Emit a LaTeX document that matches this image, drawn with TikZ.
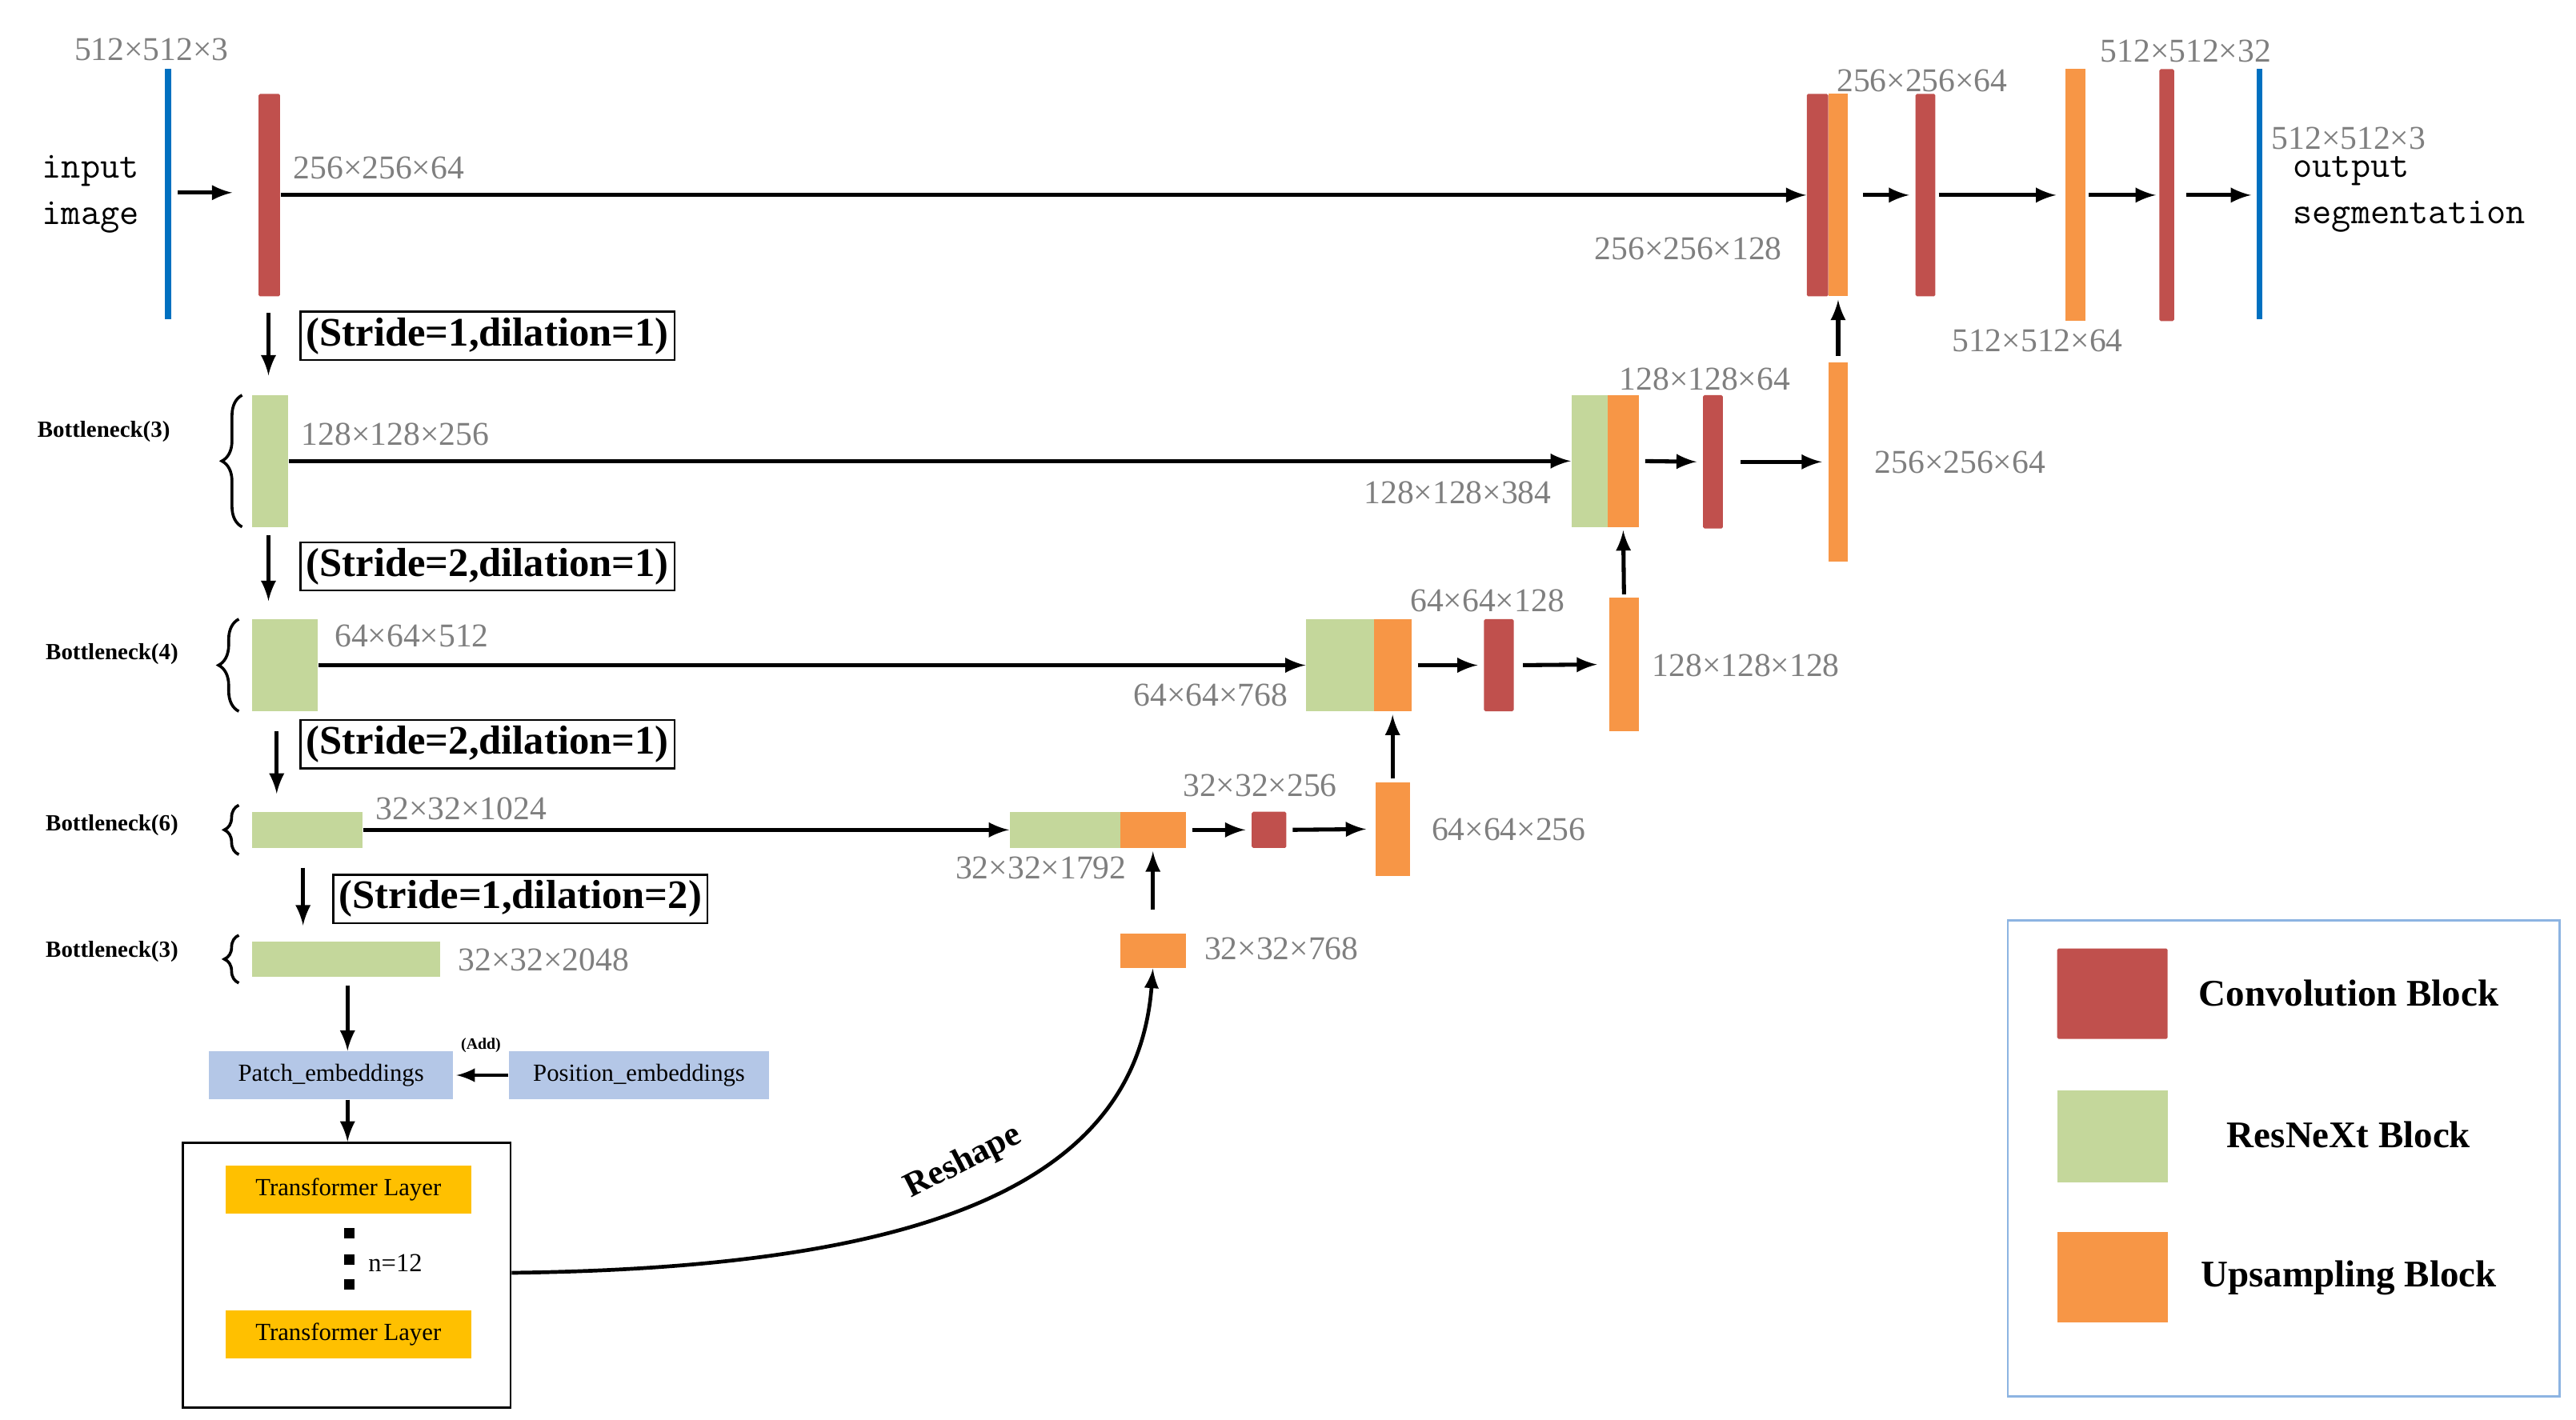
\documentclass[tikz,border=0pt]{standalone}
\usepackage{fontspec}
\setmainfont{Liberation Serif}
\usetikzlibrary{positioning,decorations.pathreplacing}
\definecolor{convred}{HTML}{C0504D}
\definecolor{resgreen}{HTML}{C4D79B}
\definecolor{uporange}{HTML}{F79646}
\definecolor{embblue}{HTML}{B4C7E7}
\definecolor{trgold}{HTML}{FFC000}
\definecolor{dimgray}{HTML}{7F7F7F}
\definecolor{inblue}{HTML}{0070C0}
\definecolor{legline}{HTML}{8DB4E2}
\tikzset{
  bl/.style 2 args={minimum width=#1*0.02cm, minimum height=#2*0.02cm, inner sep=0pt, draw=none},
  conv/.style={fill=convred, rounded corners=0.5pt},
  res/.style={fill=resgreen},
  up/.style={fill=uporange},
  dim/.style={text=dimgray, font=\fontsize{11.5}{13}\selectfont, inner sep=1pt},
  arr/.style={-latex, line width=1.4pt},
  strd/.style={draw, line width=0.7pt, font=\bfseries\fontsize{14}{16}\selectfont, inner sep=2pt},
  bneck/.style={font=\bfseries\fontsize{8}{9}\selectfont},
  emb/.style={fill=embblue, minimum width=2.96cm, minimum height=0.58cm, font=\fontsize{8.5}{10}\selectfont},
  trl/.style={fill=trgold, minimum width=2.98cm, minimum height=0.58cm, font=\fontsize{8.5}{10}\selectfont},
  leg/.style={font=\bfseries\fontsize{13}{15}\selectfont}
}
\begin{document}
\begin{tikzpicture}[x=0.02cm, y=-0.02cm]
\useasboundingbox (0,0) rectangle (1564,862);
% input / output
\draw[inblue, line width=2pt] (102,42) coordinate (in1) -- (102,194) coordinate (in2);
\draw[inblue, line width=2pt] (1372,42) coordinate (out1) -- (1372,194) coordinate (out2);
\node[dim] at (92,30) {512×512×3};
\node[font=\ttfamily\fontsize{13}{16}\selectfont, align=left] (inp) at (55,118) {input\\image};
\node[font=\ttfamily\fontsize{13}{16}\selectfont, align=left, anchor=west] (outp) at (1386,118) {output\\segmentation};
\node[dim] at (1426,84) {512×512×3};
% level 0
\node[conv, bl={13}{123}] (c0) at (163.5,118.5) {};
\node[dim] at (230,102) {256×256×64};
\node[conv, bl={13}{123}] (d0r) at (1103.5,118.5) {};
\node[up, bl={12}{123}] (d0u) at (1116,118.5) {};
\node[conv, bl={12}{123}] (d0c) at (1169,118.5) {};
\node[up, bl={12}{153}] (d0u2) at (1260,118.5) {};
\node[conv, bl={9}{153}] (d0c2) at (1315.5,118.5) {};
\node[dim] at (1167,49) {256×256×64};
\node[dim] at (1025,151) {256×256×128};
\node[dim] at (1237,207) {512×512×64};
\node[dim] at (1327,31) {512×512×32};
\coordinate (a0) at (108,117);
\coordinate (a0b) at (141,117);
\draw[arr] (a0) -- (a0b);
\draw[arr] (c0.east) -- (d0r.west);
\draw[arr, shorten <=5pt, shorten >=2pt] (d0u.east) -- (d0c.west);
\draw[arr, shorten <=1pt, shorten >=3pt] (d0c.east) -- (d0u2.west);
\draw[arr, shorten <=1pt, shorten >=1pt] (d0u2.east) -- (d0c2.west);
\draw[arr, shorten <=4pt, shorten >=3pt] (d0c2.east) -- (out1 |- d0c2.east);
% level 1
\draw[arr] (163,190) coordinate (s1a) -- (163,228) coordinate (s1b);
\node[strd] (st1) at (296,204) {(Stride=1,dilation=1)};
\node[res, bl={22}{80}] (e1) at (164,280) {};
\draw[decorate, decoration={brace, amplitude=7pt}, line width=1pt] (147,320) -- (147,240);
\node[bneck] at (63,262) {Bottleneck(3)};
\node[dim] at (240,264) {128×128×256};
\node[res, bl={22}{80}] (d1g) at (965,280) {};
\node[up, bl={19}{80}] (d1u) at (985.5,280) {};
\node[conv, bl={12}{81}] (d1c) at (1040,280.5) {};
\node[up, bl={12}{121}] (d1u2) at (1116,280.5) {};
\node[dim] at (885,299) {128×128×384};
\node[dim] at (1035,230) {128×128×64};
\node[dim] at (1190,281) {256×256×64};
\draw[arr] (e1.east) -- (d1g.west);
\draw[arr, shorten <=2pt, shorten >=2pt] (d1u.east) -- (d1c.west);
\draw[arr, shorten <=6pt, shorten >=2pt] (d1c.east) -- (d1u2.west);
\draw[arr, shorten <=2pt, shorten >=1pt] (d1u2.north) -- (d0u.south);
% level 2
\draw[arr] (163,325) coordinate (s2a) -- (163,365) coordinate (s2b);
\node[strd] (st2) at (296,344) {(Stride=2,dilation=1)};
\node[res, bl={40}{56}] (e2) at (173,404) {};
\draw[decorate, decoration={brace, amplitude=7pt}, line width=1pt] (145,432) -- (145,376);
\node[bneck] at (68,397) {Bottleneck(4)};
\node[dim] at (250,386) {64×64×512};
\node[res, bl={41}{56}] (d2g) at (813.5,404) {};
\node[up, bl={23}{56}] (d2u) at (845.5,404) {};
\node[conv, bl={18}{56}] (d2c) at (910,404) {};
\node[up, bl={18}{81}] (d2u2) at (986,403.5) {};
\node[dim] at (735,422) {64×64×768};
\node[dim] at (903,365) {64×64×128};
\node[dim] at (1060,404) {128×128×128};
\draw[arr] (e2.east) -- (d2g.west);
\draw[arr, shorten <=2pt, shorten >=2pt] (d2u.east) -- (d2c.west);
\draw[arr, shorten <=3pt, shorten >=4pt] (d2c.east) -- (d2u2.west);
\draw[arr, shorten <=1pt, shorten >=1pt] (d2u2.north) -- (d1u.south);
% level 3
\draw[arr] (168,444) coordinate (s3a) -- (168,482) coordinate (s3b);
\node[strd] (st3) at (296,452) {(Stride=2,dilation=1)};
\node[res, bl={67}{22}] (e3) at (186.5,504) {};
\draw[decorate, decoration={brace, amplitude=5pt}, line width=1pt] (145,519) -- (145,489);
\node[bneck] at (68,501) {Bottleneck(6)};
\node[dim] at (280,491) {32×32×1024};
\node[res, bl={67}{22}] (d3g) at (646.5,504) {};
\node[up, bl={40}{22}] (d3u) at (700,504) {};
\node[conv, bl={21}{22}] (d3c) at (770.5,504) {};
\node[up, bl={21}{57}] (d3u2) at (845.5,503.5) {};
\node[dim] at (632,527) {32×32×1792};
\node[dim] at (765,477) {32×32×256};
\node[dim] at (916,504) {64×64×256};
\draw[arr] (e3.east) -- (d3g.west);
\draw[arr, shorten <=2pt, shorten >=2pt] (d3u.east) -- (d3c.west);
\draw[arr, shorten <=2pt, shorten >=3pt] (d3c.east) -- (d3u2.west);
\draw[arr, shorten <=1pt, shorten >=1pt] (d3u2.north) -- (d2u.south);
% level 4
\draw[arr] (184,527) coordinate (s4a) -- (184,562) coordinate (s4b);
\node[strd] (st4) at (316,546) {(Stride=1,dilation=2)};
\node[res, bl={114}{21}] (e4) at (210,582.5) {};
\draw[decorate, decoration={brace, amplitude=5pt}, line width=1pt] (145,597) -- (145,568);
\node[bneck] at (68,578) {Bottleneck(3)};
\node[dim] at (330,583) {32×32×2048};
\node[up, bl={40}{21}] (rs) at (700,577.5) {};
\node[dim] at (778,576) {32×32×768};
\draw[arr, shorten <=8pt, shorten >=1pt] (rs.north) -- (d3u.south);
% transformer
\node[emb] (pe) at (201,653) {Patch\_embeddings};
\node[emb, minimum width=3.16cm] (pos) at (388,653) {Position\_embeddings};
\node[font=\bfseries\fontsize{5.5}{6}\selectfont] at (292,635) {(Add)};
\draw[arr, line width=1.2pt, shorten >=1pt] (pos.west) -- (pe.east);
\draw[arr] (e4.south -| 211,0) ++(0,5) -- (pe.north -| 211,0);
\node[draw, line width=0.8pt, minimum width=3.98cm, minimum height=3.22cm] (tb) at (210.5,774.5) {};
\draw[arr] (pe.south -| 211,0) -- (tb.north -| 211,0);
\node[trl] (t1) at (211.5,722.5) {Transformer Layer};
\node[trl] (t2) at (211.5,810.5) {Transformer Layer};
\foreach \yy in {749,765,780} \fill (209,\yy-3) rectangle (215,\yy+3);
\node[font=\fontsize{9}{11}\selectfont] at (240,767) {n=12};
\draw[arr, line width=1.3pt] (tb.east |- 0,773) .. controls (560,770) and (690,720) .. (rs.south);
\node[font=\bfseries\fontsize{12}{14}\selectfont, rotate=27] at (585,706) {Reshape};
% legend
\node[draw=legline, line width=0.8pt, minimum width=6.7cm, minimum height=5.78cm] (lgd) at (1386.5,703.5) {};
\node[conv, bl={67}{55}] (lc) at (1282.5,603.5) {};
\node[res, bl={67}{56}] (lr) at (1282.5,690) {};
\node[up, bl={67}{55}] (lu) at (1282.5,775.5) {};
\node[leg] at (1426,603) {Convolution Block};
\node[leg] at (1426,689) {ResNeXt Block};
\node[leg] at (1426,776) {Upsampling Block};
\end{tikzpicture}
\end{document}
